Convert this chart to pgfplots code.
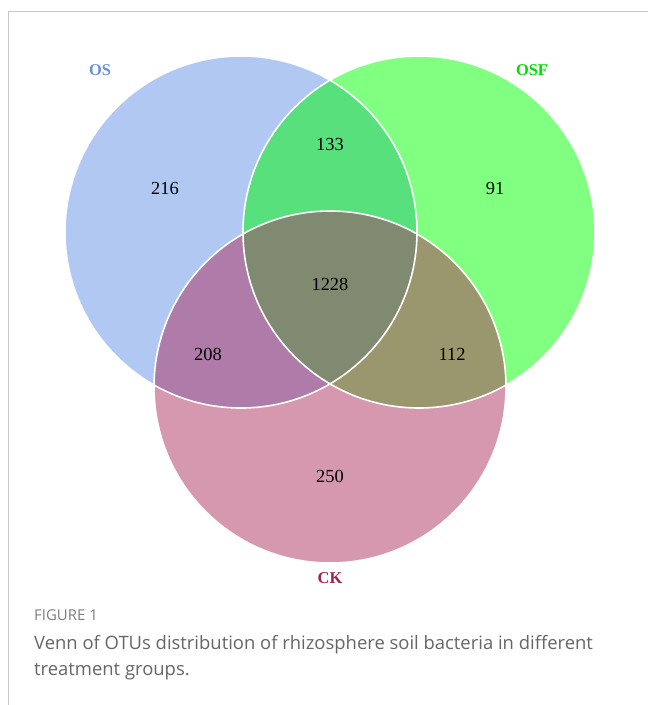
\documentclass[border=0pt]{standalone}
\usepackage{pgfplots}
\pgfplotsset{compat=1.18}
\usepackage{pgfplotstable}
\usepackage{fontspec}
\setmainfont{Liberation Serif}
\newfontfamily\capfont{Open Sans}

\definecolor{cOS}{HTML}{B0C8F2}
\definecolor{cOSF}{HTML}{80FF80}
\definecolor{cCK}{HTML}{D698AF}
\definecolor{cOSxOSF}{HTML}{58E07C}
\definecolor{cOSxCK}{HTML}{AF7BA9}
\definecolor{cOSFxCK}{HTML}{9A976E}
\definecolor{cAll}{HTML}{7F8A70}
\definecolor{lOS}{HTML}{6B8FDB}
\definecolor{lOSF}{HTML}{00DD00}
\definecolor{lCK}{HTML}{A0204F}
\definecolor{capgray}{HTML}{666666}

% region counts, placed at the centre of each region (pixel coords, y down)
\pgfplotstableread{
x   y   n
165 188 216
330 144 133
495 188 91
330 284 1228
208 354 208
452 354 112
330 476 250
}\counts

\begin{document}
\begin{tikzpicture}
\begin{axis}[
    at={(0,0)}, anchor=south west,
    x=1bp, y=1bp,
    xmin=0, xmax=648, ymin=0, ymax=705,
    y dir=reverse,
    hide axis, clip=false,
  ]
  % frame
  \draw[black!22, line width=1bp] (axis cs:8,705) -- (axis cs:8,11) -- (axis cs:648,11);

  % circles
  \fill[cOS]  (axis cs:241,232) circle[radius=176];
  \fill[cOSF] (axis cs:419,232) circle[radius=176];
  \fill[cCK]  (axis cs:330,387) circle[radius=176];
  \begin{scope}
    \clip (axis cs:241,232) circle[radius=176];
    \fill[cOSxOSF] (axis cs:419,232) circle[radius=176];
    \fill[cOSxCK]  (axis cs:330,387) circle[radius=176];
  \end{scope}
  \begin{scope}
    \clip (axis cs:419,232) circle[radius=176];
    \fill[cOSFxCK] (axis cs:330,387) circle[radius=176];
  \end{scope}
  \begin{scope}
    \clip (axis cs:241,232) circle[radius=176];
    \clip (axis cs:419,232) circle[radius=176];
    \fill[cAll] (axis cs:330,387) circle[radius=176];
  \end{scope}
  \draw[white, line width=1.6bp] (axis cs:241,232) circle[radius=176];
  \draw[white, line width=1.6bp] (axis cs:419,232) circle[radius=176];
  \draw[white, line width=1.6bp] (axis cs:330,387) circle[radius=176];

  % counts
  \addplot[draw=none, mark=none,
    point meta=explicit symbolic,
    nodes near coords,
    every node near coord/.append style={anchor=center, font=\fontsize{18.5}{20}\selectfont, text=black},
  ] table[x=x, y=y, meta=n] {\counts};

  % set names
  \node[text=lOS,  font=\fontsize{16.5}{18}\selectfont\bfseries] at (axis cs:100,70) {OS};
  \node[text=lOSF, font=\fontsize{16.5}{18}\selectfont\bfseries] at (axis cs:532,70) {OSF};
  \node[text=lCK,  font=\fontsize{16.5}{18}\selectfont\bfseries] at (axis cs:330,578) {CK};

  % caption
  \node[anchor=west, inner sep=0pt, text=capgray!85, font=\capfont\fontsize{15}{17}\selectfont] at (axis cs:34,615) {FIGURE 1};
  \node[anchor=west, inner sep=0pt, text=capgray, font=\capfont\fontsize{18.5}{21}\selectfont] at (axis cs:34,645) {Venn of OTUs distribution of rhizosphere soil bacteria in different};
  \node[anchor=west, inner sep=0pt, text=capgray, font=\capfont\fontsize{18.5}{21}\selectfont] at (axis cs:34,672) {treatment groups.};
\end{axis}
\pgfresetboundingbox
\useasboundingbox (0,0) rectangle (648bp,705bp);
\end{tikzpicture}
\end{document}
